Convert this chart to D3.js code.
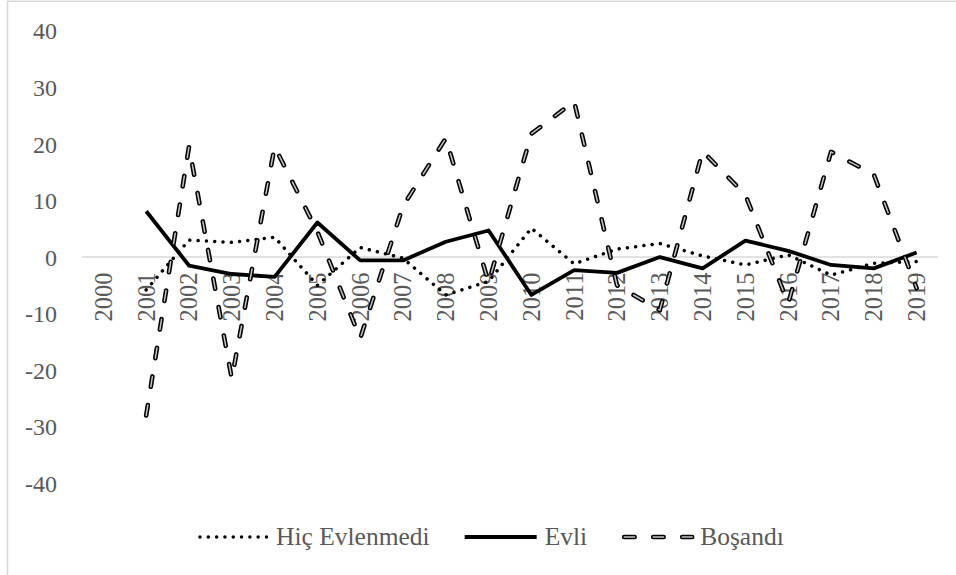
<!DOCTYPE html>
<html>
<head>
<meta charset="utf-8">
<script src="https://cdn.jsdelivr.net/npm/d3@7"></script>
<style>
  body { margin: 0; background: #fff; }
  svg { display: block; }
</style>
</head>
<body>
<svg id="chart" width="956" height="575"></svg>
<script>
// ---- data ----
const years = ["2000","2001","2002","2003","2004","2005","2006","2007","2008","2009",
               "2010","2011","2012","2013","2014","2015","2016","2017","2018","2019"];
const yTicks = [-40, -30, -20, -10, 0, 10, 20, 30, 40];
const seriesNames = ["Hiç Evlenmedi", "Evli", "Boşandı"];
const hicEvlenmedi = [null, -5.8, 3.0, 2.6, 3.5, -5.0, 1.7, -0.2, -6.7, -4.3,
                      5.1, -1.2, 1.4, 2.4, 0.2, -1.4, 0.4, -3.2, -1.1, -0.8];
const evli         = [null, 8.1, -1.5, -3.0, -3.5, 6.1, -0.6, -0.6, 2.7, 4.7,
                      -6.7, -2.3, -2.8, 0.0, -2.0, 2.9, 1.1, -1.4, -2.0, 0.8];
const bosandi      = [null, -28.0, 19.5, -21.5, 19.5, 4.5, -14.4, 9.0, 21.0, -4.5,
                      21.8, 27.5, -5.0, -9.4, 18.7, 11.0, -8.2, 18.6, 14.6, -5.5];

// ---- setup ----
const FONT = "Liberation Serif";
const TEXT = "#595959";
const svg = d3.select("#chart");

svg.append("rect").attr("x", 0).attr("y", 0).attr("width", 956).attr("height", 575).attr("fill", "#fff");
// chart border (partially outside the view)
svg.append("rect").attr("x", 7.5).attr("y", 1.3).attr("width", 1000).attr("height", 700)
  .attr("fill", "none").attr("stroke", "#d9d9d9").attr("stroke-width", 1.6);

const plot = { left: 82, right: 938, top: 30.8, bottom: 483.3 };
const x = d3.scaleBand().domain(years).range([plot.left, plot.right]);
const y = d3.scaleLinear().domain([-40, 40]).range([plot.bottom, plot.top]);
const cx = yr => x(yr) + x.bandwidth() / 2;

// y axis labels
const gy = svg.append("g").attr("transform", "translate(57,0)")
  .call(d3.axisLeft(y).tickValues(yTicks).tickSize(0).tickPadding(0).tickFormat(d => String(d)));
gy.attr("font-family", FONT);
gy.select(".domain").remove();
gy.selectAll("text").attr("font-family", FONT).attr("font-size", 24).attr("fill", TEXT).attr("dy", "0.34em");

// zero line
svg.append("line").attr("x1", plot.left).attr("x2", plot.right)
  .attr("y1", y(0)).attr("y2", y(0)).attr("stroke", "#d9d9d9").attr("stroke-width", 1.6);

// x axis labels (rotated)
const gx = svg.append("g").attr("transform", `translate(0,${y(0) + 15.5})`)
  .call(d3.axisBottom(x).tickSize(0).tickPadding(0));
gx.attr("font-family", FONT);
gx.select(".domain").remove();
gx.selectAll("text")
  .attr("font-family", FONT).attr("font-size", 24.5).attr("fill", TEXT)
  .attr("text-anchor", "end").attr("transform", "rotate(-90)")
  .attr("x", 0).attr("y", 0).attr("dy", "0.34em");

// ---- lines ----
const line = d3.line()
  .defined(d => d != null)
  .x((d, i) => cx(years[i]))
  .y(d => y(d));

const styles = [
  [{ stroke: "#000", width: 3.5, dash: "0.01 8.3", cap: "round" }],
  [{ stroke: "#000", width: 3.8, dash: null, cap: "butt" }],
  [{ stroke: "#000", width: 4.6, dash: "10.5 18.5", cap: "round" },
   { stroke: "#c4c4c4", width: 1.5, dash: "10.5 18.5", cap: "round" }]
];
const allSeries = [hicEvlenmedi, evli, bosandi];

allSeries.forEach((vals, si) => {
  styles[si].forEach(st => {
    svg.append("path").datum(vals).attr("d", line)
      .attr("fill", "none").attr("stroke", st.stroke).attr("stroke-width", st.width)
      .attr("stroke-dasharray", st.dash).attr("stroke-linecap", st.cap)
      .attr("stroke-linejoin", "round");
  });
});

// ---- legend ----
const legY = 537;
const sampleLen = [68, 72, 70];
let lx = 200;
seriesNames.forEach((name, si) => {
  const x0 = si === 2 ? lx + 2 : lx;
  const x1 = lx + sampleLen[si];
  styles[si].forEach(st => {
    svg.append("line").attr("x1", x0).attr("x2", x1).attr("y1", legY).attr("y2", legY)
      .attr("stroke", st.stroke).attr("stroke-width", st.width)
      .attr("stroke-dasharray", st.dash).attr("stroke-linecap", st.cap);
  });
  const t = svg.append("text").attr("x", x1 + 8).attr("y", legY).attr("dy", "0.3em")
    .attr("font-family", FONT).attr("font-size", 25.5).attr("fill", TEXT).text(name);
  lx = x1 + 8 + t.node().getComputedTextLength() + 35;
});
</script>
</body>
</html>
